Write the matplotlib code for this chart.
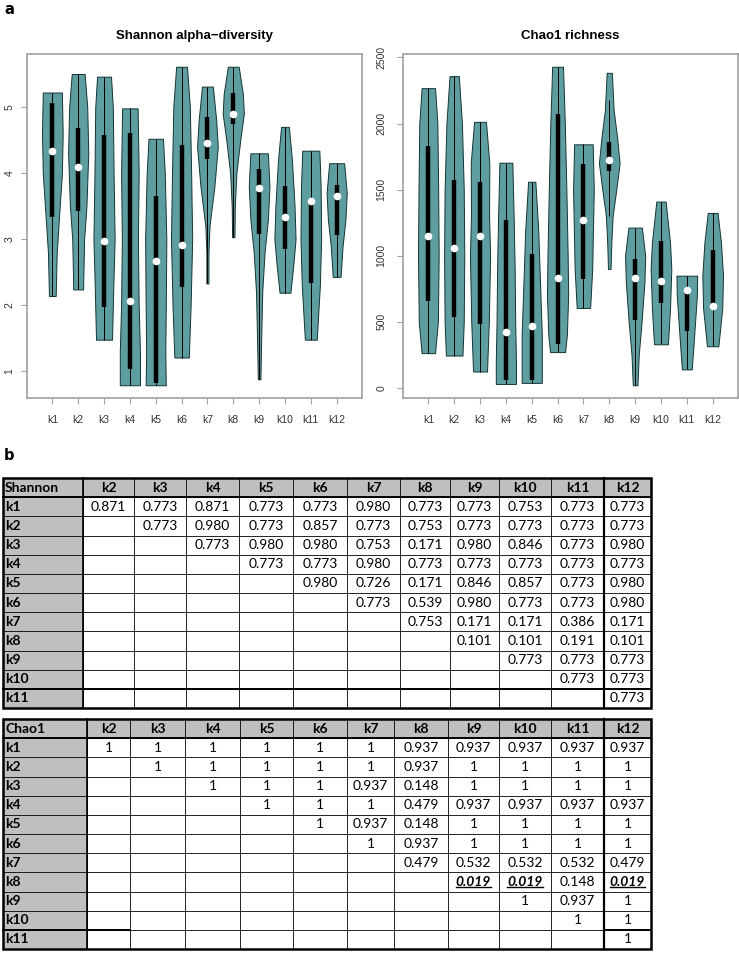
"""Violin plots (Shannon / Chao1) per cluster k1..k12 + pairwise p-value tables."""
import matplotlib
matplotlib.use("Agg")
import matplotlib.pyplot as plt
import numpy as np

GROUPS = ["k1", "k2", "k3", "k4", "k5", "k6", "k7", "k8", "k9", "k10", "k11", "k12"]

# Shannon: violin outline knots (value, half-width), bottom -> top
SH_LEVELS = [
    [2.14, 2.8, 3.4, 4.0, 4.6, 5.22],
    [2.24, 3.0, 3.5, 4.3, 5.0, 5.50],
    [1.48, 2.3, 3.0, 4.0, 5.0, 5.46],
    [0.79, 1.3, 2.0, 3.0, 4.0, 4.98],
    [0.79, 1.3, 2.0, 3.0, 4.0, 4.52],
    [1.21, 2.0, 3.0, 4.0, 5.0, 5.61],
    [2.33, 2.8, 3.2, 3.8, 4.4, 4.8, 5.31],
    [3.03, 3.5, 4.0, 4.5, 4.9, 5.2, 5.61],
    [0.88, 1.5, 2.2, 2.8, 3.3, 3.8, 4.30],
    [2.19, 2.6, 3.0, 3.5, 4.2, 4.70],
    [1.48, 2.3, 3.0, 3.8, 4.34],
    [2.43, 2.9, 3.3, 3.7, 4.15],
]
SH_WIDTHS = [
    [0.13, 0.17, 0.27, 0.37, 0.40, 0.37],
    [0.19, 0.23, 0.32, 0.39, 0.35, 0.25],
    [0.31, 0.36, 0.41, 0.37, 0.34, 0.27],
    [0.39, 0.39, 0.34, 0.31, 0.34, 0.30],
    [0.39, 0.37, 0.39, 0.41, 0.35, 0.28],
    [0.28, 0.35, 0.41, 0.37, 0.32, 0.21],
    [0.04, 0.04, 0.08, 0.27, 0.40, 0.34, 0.21],
    [0.045, 0.06, 0.12, 0.27, 0.41, 0.37, 0.21],
    [0.05, 0.08, 0.12, 0.21, 0.34, 0.40, 0.34],
    [0.21, 0.32, 0.41, 0.37, 0.27, 0.15],
    [0.23, 0.35, 0.40, 0.38, 0.33],
    [0.15, 0.23, 0.34, 0.39, 0.29],
]
SH_Q1 = [3.34, 3.43, 1.97, 1.04, 0.82, 2.27, 4.21, 4.74, 3.08, 2.85, 2.33, 3.07]
SH_Q3 = [5.06, 4.68, 4.58, 4.60, 3.65, 4.43, 4.85, 5.21, 4.06, 3.80, 3.58, 3.82]
SH_MED = [4.34, 4.09, 2.97, 2.07, 2.67, 2.92, 4.45, 4.89, 3.77, 3.33, 3.58, 3.65]
SH_WLO = [2.14, 2.24, 1.48, 0.79, 0.79, 1.21, 2.33, 3.03, 0.88, 2.19, 1.48, 2.43]
SH_WHI = [5.22, 5.50, 5.46, 4.98, 4.52, 5.61, 5.31, 5.61, 4.30, 4.70, 4.34, 4.15]

# Chao1
CH_LEVELS = [
    [263, 500, 1000, 1500, 2000, 2268],
    [245, 500, 1000, 1500, 2000, 2359],
    [124, 500, 1000, 1300, 1700, 2013],
    [30, 200, 500, 900, 1300, 1704],
    [38, 150, 400, 800, 1200, 1560],
    [271, 400, 700, 1000, 1500, 2000, 2430],
    [605, 900, 1200, 1500, 1843],
    [900, 1100, 1300, 1500, 1700, 1900, 2100, 2384],
    [20, 250, 500, 800, 1000, 1213],
    [330, 600, 900, 1100, 1410],
    [140, 300, 500, 700, 849],
    [315, 600, 850, 1100, 1324],
]
CH_WIDTHS = [
    [0.26, 0.37, 0.40, 0.38, 0.35, 0.26],
    [0.32, 0.37, 0.39, 0.37, 0.30, 0.18],
    [0.27, 0.34, 0.39, 0.35, 0.36, 0.23],
    [0.39, 0.39, 0.36, 0.34, 0.30, 0.25],
    [0.39, 0.39, 0.39, 0.32, 0.25, 0.14],
    [0.29, 0.36, 0.41, 0.39, 0.34, 0.28, 0.21],
    [0.26, 0.34, 0.37, 0.40, 0.36],
    [0.05, 0.08, 0.13, 0.27, 0.40, 0.30, 0.17, 0.10],
    [0.09, 0.14, 0.25, 0.36, 0.39, 0.26],
    [0.27, 0.35, 0.40, 0.35, 0.18],
    [0.19, 0.25, 0.32, 0.39, 0.40],
    [0.22, 0.37, 0.40, 0.32, 0.19],
]
CH_Q1 = [661, 540, 484, 60, 60, 333, 823, 1641, 510, 646, 429, 610]
CH_Q3 = [1833, 1576, 1556, 1273, 1015, 2076, 1697, 1864, 979, 1113, 743, 1045]
CH_MED = [1146, 1055, 1153, 420, 468, 828, 1267, 1722, 828, 808, 737, 621]
CH_WLO = [263, 245, 124, 30, 38, 271, 605, 1298, 20, 330, 140, 315]
CH_WHI = [2268, 2359, 2013, 1704, 1560, 2430, 1843, 2182, 1213, 1410, 849, 1324]

# pairwise p-values (upper triangle: row k_i, columns k_{i+1}..k12)
SH_P = [
    ["0.871", "0.773", "0.871", "0.773", "0.773", "0.980", "0.773", "0.773", "0.753", "0.773", "0.773"],
    ["0.773", "0.980", "0.773", "0.857", "0.773", "0.753", "0.773", "0.773", "0.773", "0.773"],
    ["0.773", "0.980", "0.980", "0.753", "0.171", "0.980", "0.846", "0.773", "0.980"],
    ["0.773", "0.773", "0.980", "0.773", "0.773", "0.773", "0.773", "0.773"],
    ["0.980", "0.726", "0.171", "0.846", "0.857", "0.773", "0.980"],
    ["0.773", "0.539", "0.980", "0.773", "0.773", "0.980"],
    ["0.753", "0.171", "0.171", "0.386", "0.171"],
    ["0.101", "0.101", "0.191", "0.101"],
    ["0.773", "0.773", "0.773"],
    ["0.773", "0.773"],
    ["0.773"],
]
CH_P = [
    ["1", "1", "1", "1", "1", "1", "0.937", "0.937", "0.937", "0.937", "0.937"],
    ["1", "1", "1", "1", "1", "0.937", "1", "1", "1", "1"],
    ["1", "1", "1", "0.937", "0.148", "1", "1", "1", "1"],
    ["1", "1", "1", "0.479", "0.937", "0.937", "0.937", "0.937"],
    ["1", "0.937", "0.148", "1", "1", "1", "1"],
    ["1", "0.937", "1", "1", "1", "1"],
    ["0.479", "0.532", "0.532", "0.532", "0.479"],
    ["0.019", "0.019", "0.148", "0.019"],
    ["1", "0.937", "1"],
    ["1", "1"],
    ["1"],
]
CH_SIG = [("k8", "k9"), ("k8", "k10"), ("k8", "k12")]

VIOLIN = "#5F9EA0"
EDGE = "#143434"
FRAME = "#a0a0a0"
HEAD = "#BFBFBF"

W, H = 739, 959
fig = plt.figure(figsize=(W / 100, H / 100), dpi=100)


def px_axes(left, top, right, bottom, **kw):
    return fig.add_axes([left / W, 1 - bottom / H, (right - left) / W, (bottom - top) / H], **kw)


def violin_panel(ax, title, levels, widths, q1, q3, med, wlo, whi, yticks, ypad):
    for i in range(len(GROUPS)):
        x = i + 1
        y = np.array(levels[i])
        w = np.array(widths[i])
        ax.fill_betweenx(y, x - w, x + w, facecolor=VIOLIN, edgecolor=EDGE, lw=0.7, zorder=2)
        ax.vlines(x, wlo[i], whi[i], color="black", lw=0.7, zorder=3)
        ax.vlines(x, q1[i], q3[i], color="black", lw=3.2, zorder=4)
        ax.plot(x, med[i], "o", color="white", ms=5.5, mew=0, zorder=5)
    lo = min(l[0] for l in levels)
    hi = max(l[-1] for l in levels)
    pad = (hi - lo) * 0.04
    ax.set_ylim(lo - pad, hi + pad)
    ax.set_xlim(0.02, 12.98)
    ax.set_xticks(range(1, len(GROUPS) + 1))
    ax.set_xticklabels(GROUPS)
    ax.set_yticks(yticks)
    ax.set_yticklabels([str(t) for t in yticks], rotation=90, va="center")
    ax.tick_params(axis="both", direction="out", length=4, width=0.8, color=FRAME,
                   labelsize=7.5, labelcolor="#333333")
    ax.tick_params(axis="x", pad=8)
    ax.tick_params(axis="y", pad=ypad)
    for s in ax.spines.values():
        s.set_color(FRAME)
        s.set_linewidth(1.2)
    ax.set_title(title, fontsize=9.5, fontweight="bold", pad=11, family="Liberation Sans")


ax1 = px_axes(27, 54, 362, 398)
violin_panel(ax1, "Shannon alpha\u2212diversity", SH_LEVELS, SH_WIDTHS, SH_Q1, SH_Q3,
             SH_MED, SH_WLO, SH_WHI, [1, 2, 3, 4, 5], 5)
ax2 = px_axes(403, 54, 738, 398)
violin_panel(ax2, "Chao1 richness", CH_LEVELS, CH_WIDTHS, CH_Q1, CH_Q3,
             CH_MED, CH_WLO, CH_WHI, [0, 500, 1000, 1500, 2000, 2500], 8)

for lab in ax1.get_xticklabels() + ax1.get_yticklabels() + ax2.get_xticklabels() + ax2.get_yticklabels():
    lab.set_family("Liberation Sans")

fig.text(4 / W, 1 - 9 / H, "a", fontsize=10.5, fontweight="bold", va="center")
fig.text(4 / W, 1 - 455 / H, "b", fontsize=10.5, fontweight="bold", va="center")

# tables drawn in pixel space
tab = fig.add_axes([0, 0, 1, 1])
tab.set_xlim(0, W)
tab.set_ylim(H, 0)
tab.axis("off")

TFONT = ["Lato", "DejaVu Sans"]
TSIZE = 10
ROW_H = 19.17


def draw_table(top, col_edges, name, pvals, sig, k11_thick_cols):
    n = len(GROUPS) - 1
    rows = [top + r * ROW_H for r in range(n + 2)]
    left, right = col_edges[0], col_edges[-1]
    bottom = rows[-1]
    # shading
    tab.add_patch(plt.Rectangle((left, rows[0]), right - left, ROW_H, fc=HEAD, ec="none"))
    tab.add_patch(plt.Rectangle((left, rows[1]), col_edges[1] - left, bottom - rows[1], fc=HEAD, ec="none"))
    # grid
    for y in rows[1:-1]:
        tab.plot([left, right], [y, y], color="black", lw=0.6)
    for x in col_edges[1:-1]:
        tab.plot([x, x], [top, bottom], color="black", lw=0.6)
    tab.plot([left, right], [rows[1], rows[1]], color="black", lw=1.4)
    tab.plot([col_edges[1]] * 2, [top, bottom], color="black", lw=1.2)
    tab.plot([col_edges[-2]] * 2, [top, bottom], color="black", lw=1.6)
    for c0, c1 in k11_thick_cols:
        tab.plot([col_edges[c0], col_edges[c1]], [rows[-2], rows[-2]], color="black", lw=1.4)
    tab.add_patch(plt.Rectangle((left, top), right - left, bottom - top, fc="none", ec="black", lw=1.8))
    # header
    tab.text(left + 2, rows[0] + ROW_H / 2, name, ha="left", va="center", fontsize=TSIZE,
             fontweight="bold", family=TFONT)
    for j, g in enumerate(GROUPS[1:]):
        xc = (col_edges[j + 1] + col_edges[j + 2]) / 2
        tab.text(xc, rows[0] + ROW_H / 2, g, ha="center", va="center", fontsize=TSIZE,
                 fontweight="bold", family=TFONT)
    sig_texts = []
    for i, g in enumerate(GROUPS[:-1]):
        yc = rows[i + 1] + ROW_H / 2
        tab.text(left + 2, yc, g, ha="left", va="center", fontsize=TSIZE, fontweight="bold", family=TFONT)
        for k, v in enumerate(pvals[i]):
            j = i + k  # column index among k2..k12
            col = GROUPS[j + 1]
            xc = (col_edges[j + 1] + col_edges[j + 2]) / 2
            if (g, col) in sig:
                t = tab.text(xc, yc, v, ha="center", va="center", fontsize=TSIZE,
                             fontweight="bold", style="italic", family=TFONT)
                sig_texts.append(t)
            else:
                tab.text(xc, yc, v, ha="center", va="center", fontsize=TSIZE, family=TFONT)
    return sig_texts


SH_COL_EDGES = [3, 83, 134, 186, 239, 293, 347, 400, 450, 499, 551, 604, 651]
CH_COL_EDGES = [3, 87, 130, 185, 240, 293, 347, 394, 448, 499, 551, 604, 651]

draw_table(478, SH_COL_EDGES, "Shannon", SH_P, [], [(0, 12)])
sig = draw_table(719, CH_COL_EDGES, "Chao1", CH_P, CH_SIG, [(0, 2), (11, 12)])

# underline the significant values
fig.canvas.draw()
rend = fig.canvas.get_renderer()
inv = tab.transData.inverted()
for t in sig:
    bb = t.get_window_extent(rend)
    (x0, y0), (x1, _) = inv.transform([(bb.x0, bb.y0), (bb.x1, bb.y0)])
    tab.plot([x0, x1], [y0 - 0.5, y0 - 0.5], color="black", lw=1.0)

fig.savefig("out.png", dpi=100)
